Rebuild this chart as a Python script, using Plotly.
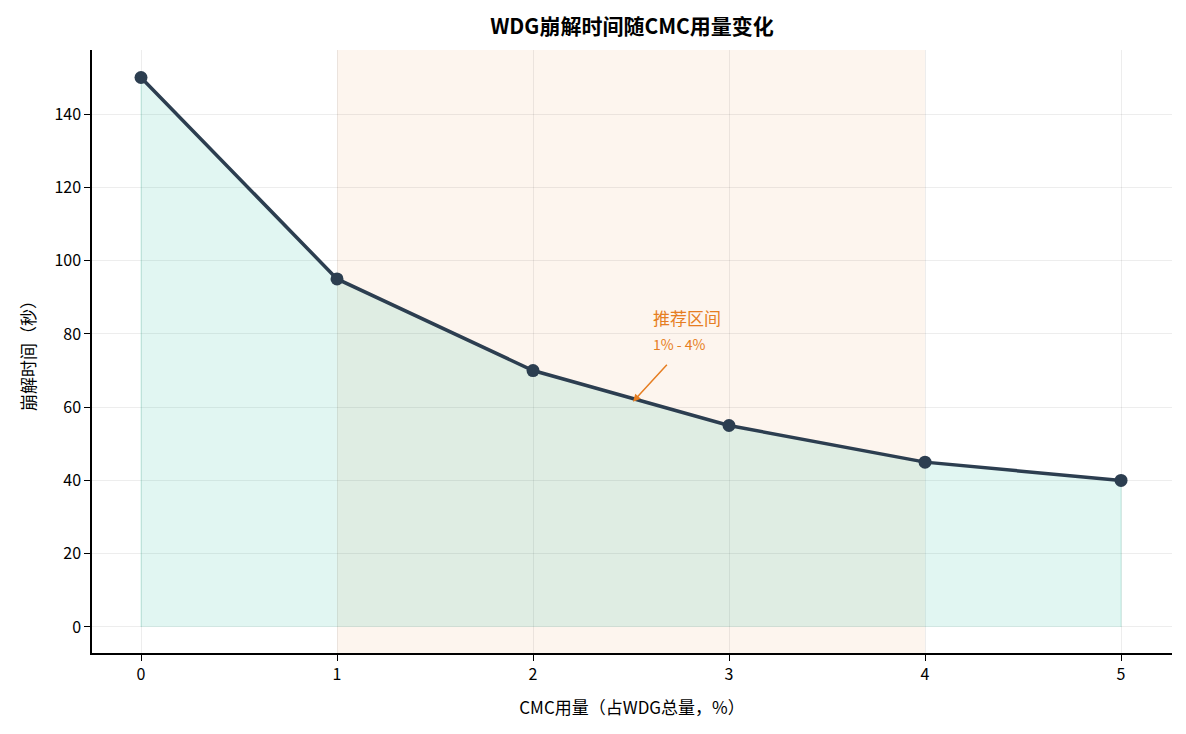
import plotly.graph_objects as go

cmc_dose = [0, 1, 2, 3, 4, 5]  # CMC用量 %
disint_time = [150, 95, 70, 55, 45, 40]  # 崩解时间 秒
rec_low, rec_high = 1, 4  # 推荐区间
x_ticks = [0, 1, 2, 3, 4, 5]
y_ticks = [0, 20, 40, 60, 80, 100, 120, 140]

font_cn = "Noto Sans CJK SC"

fig = go.Figure()

# recommended range shading
fig.add_vrect(x0=rec_low, x1=rec_high, fillcolor="rgba(230,126,34,0.08)", line_width=0, layer="below")

# fill under the curve
fig.add_trace(go.Scatter(x=cmc_dose, y=disint_time, mode="lines", fill="tozeroy",
                         fillcolor="rgba(26,188,156,0.13)", line=dict(color="rgba(26,188,156,0.25)", width=1),
                         hoverinfo="skip", showlegend=False))
# vertical edges of fill
fig.add_trace(go.Scatter(x=[cmc_dose[0], cmc_dose[0], None, cmc_dose[-1], cmc_dose[-1]],
                         y=[0, disint_time[0], None, 0, disint_time[-1]], mode="lines",
                         line=dict(color="rgba(26,188,156,0.2)", width=1), hoverinfo="skip", showlegend=False))

# main line
fig.add_trace(go.Scatter(x=cmc_dose, y=disint_time, mode="lines+markers",
                         line=dict(color="#2c3e50", width=3.5),
                         marker=dict(color="#2c3e50", size=13), showlegend=False))

fig.add_annotation(x=2.51, y=61.5, ax=2.69, ay=72, xref="x", yref="y", axref="x", ayref="y",
                   text="", showarrow=True, arrowhead=2, arrowsize=1, arrowwidth=1.5, arrowcolor="#e67e22")
fig.add_annotation(x=2.6, y=84.6, xref="x", yref="y", text="推荐区间", showarrow=False,
                   xanchor="left", yanchor="middle", font=dict(family=font_cn, size=17, color="#e67e22"))
fig.add_annotation(x=2.6, y=77.3, xref="x", yref="y", text="1% - 4%", showarrow=False,
                   xanchor="left", yanchor="middle", font=dict(family=font_cn, size=14, color="#e67e22"))

# page body adds ~8px offset, so size the figure to land on the reference frame
fig.update_layout(
    width=1170, height=718,
    margin=dict(l=84, r=6, t=42, b=73),
    paper_bgcolor="white", plot_bgcolor="white",
    font=dict(family=font_cn, size=16, color="black"),
    title=dict(text="<b>WDG崩解时间随CMC用量变化</b>", x=0.5, xref="paper", xanchor="center",
               y=1 - 19 / 718, yanchor="middle",
               font=dict(family=font_cn, size=21, color="black")),
    xaxis=dict(range=[-0.25, 5.26], tickvals=x_ticks, showgrid=True, gridcolor="rgba(0,0,0,0.07)",
               showline=True, linecolor="black", linewidth=1.5, ticks="outside", ticklen=6, tickcolor="black",
               zeroline=False, mirror=False,
               title=dict(text="CMC用量（占WDG总量，%）", font=dict(size=17), standoff=18)),
    yaxis=dict(range=[-7.1, 157.5], tickvals=y_ticks, showgrid=True, gridcolor="rgba(0,0,0,0.07)",
               showline=True, linecolor="black", linewidth=1.5, ticks="outside", ticklen=6, tickcolor="black",
               zeroline=False,
               title=dict(text="崩解时间（秒）", font=dict(size=17), standoff=14)),
)

fig.write_html("out.html")
